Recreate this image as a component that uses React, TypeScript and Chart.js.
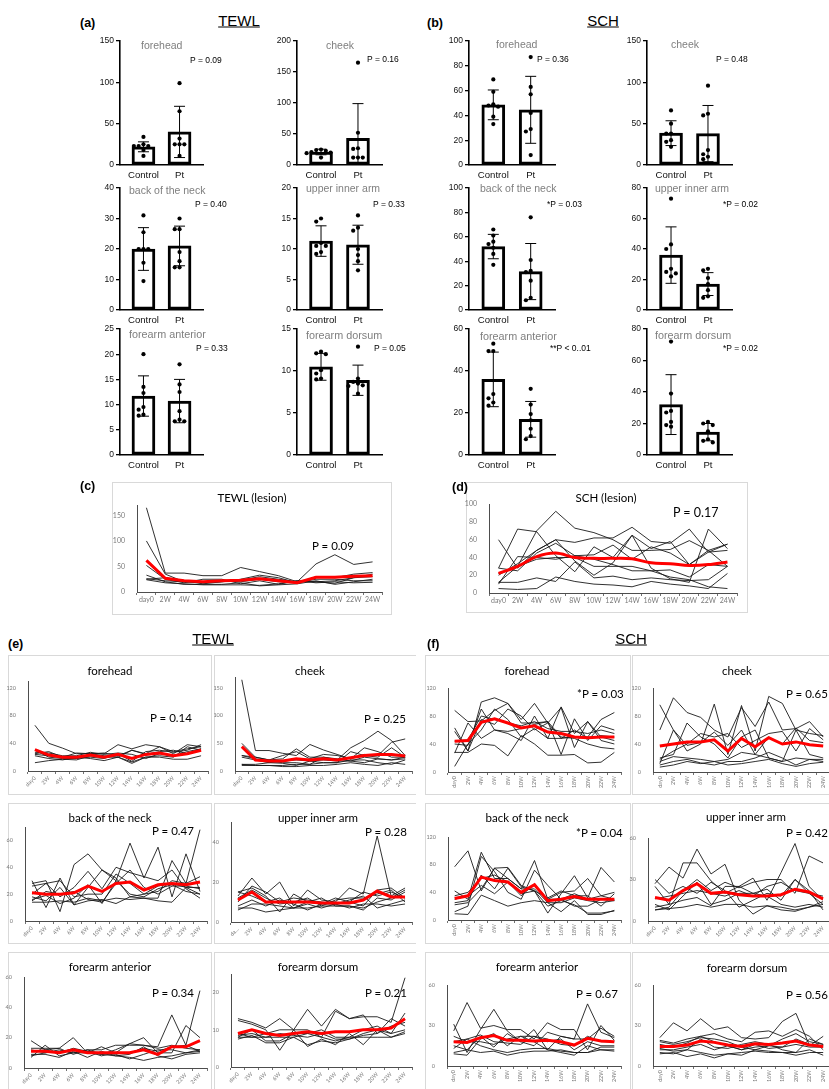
import React, { useEffect, useRef } from 'react';
import { Chart, registerables } from 'chart.js';

Chart.register(...registerables);

const GP = '"Liberation Sans", Arial, Helvetica, sans-serif';
const XL = 'Lato, "Liberation Sans", Arial, sans-serif';

// ---------------- data ----------------
const GROUPS = ['Control', 'Pt'];
const WEEKS = ['day0', '2W', '4W', '6W', '8W', '10W', '12W', '14W', '16W', '18W', '20W', '22W', '24W'];
const WEEKS_CUT = ['da…', '2W', '4W', '6W', '8W', '10W', '12W', '14W', '16W', '18W', '20W', '22W', '24W'];

// (a) TEWL, control vs patient
const aForeheadControl = [34, 25, 23, 23, 23, 18, 11];
const aForeheadPt = [99, 65, 32, 25, 25, 25, 11];
const aForeheadMean = [22, 40];
const aForeheadSd = [6, 31];
const aCheekControl = [25, 24, 23, 21, 20, 19, 12];
const aCheekPt = [165, 52, 27, 26, 12, 12, 12];
const aCheekMean = [21, 43];
const aCheekSd = [4.5, 56];
const aNeckControl = [31, 25.5, 20, 20, 20, 15.5, 9.5];
const aNeckPt = [30, 26.5, 26.5, 19, 16, 14, 14];
const aNeckMean = [20, 21];
const aNeckSd = [7, 6.5];
const aArmControl = [15, 14.5, 11, 10.5, 10.5, 9.5, 9.2];
const aArmPt = [15.5, 13.5, 13, 10, 9, 8, 6.5];
const aArmMean = [11.3, 10.7];
const aArmSd = [2.5, 3.2];
const aAnteriorControl = [20, 13.5, 12.3, 9.5, 9, 8, 7.8];
const aAnteriorPt = [18, 14, 12.5, 8.7, 7, 6.7, 6.7];
const aAnteriorMean = [11.7, 10.7];
const aAnteriorSd = [4, 4.3];
const aDorsumControl = [12.3, 12.1, 12, 10.1, 9.7, 9.1, 9.0];
const aDorsumPt = [12.9, 9.1, 8.7, 8.5, 8.3, 8.2, 7.3];
const aDorsumMean = [10.5, 8.9];
const aDorsumSd = [1.6, 1.8];

// (b) SCH, control vs patient
const bForeheadControl = [69, 59, 49, 48, 47, 39, 33];
const bForeheadPt = [87, 63, 57, 42, 29, 27, 8];
const bForeheadMean = [48.5, 44.5];
const bForeheadSd = [12, 27];
const bCheekControl = [66, 50, 38, 38, 30, 28, 22];
const bCheekPt = [96, 62, 60, 18, 13, 10, 7];
const bCheekMean = [38.5, 38];
const bCheekSd = [15, 34];
const bNeckControl = [66, 61, 56, 54, 51, 46, 37];
const bNeckPt = [76, 41, 32, 31, 24, 10, 8];
const bNeckMean = [52, 31.5];
const bNeckSd = [10, 23];
const bArmControl = [73, 43, 40, 27, 25, 24, 22];
const bArmPt = [27, 26, 21, 17, 13, 9, 8];
const bArmMean = [36, 17];
const bArmSd = [18.5, 7.5];
const bAnteriorControl = [53, 49.5, 49.5, 29, 27, 25, 23.5];
const bAnteriorPt = [31.5, 24, 19.5, 16.5, 12.5, 9, 7.5];
const bAnteriorMean = [36, 17];
const bAnteriorSd = [13, 8.5];
const bDorsumControl = [72, 39, 28, 27, 21, 19, 18];
const bDorsumPt = [21, 20, 19, 15, 10, 9, 8];
const bDorsumMean = [32, 14.5];
const bDorsumSd = [19, 5.5];

// (c) TEWL lesion
const cLesionLines = [
  [165, 37, 37, 32, 32, 48, 40, 32, 20, 55, 73, 54, 59],
  [100, 35, 20, 18, 20, 25, 33, 28, 18, 30, 28, 35, 38],
  [52, 25, 18, 25, 25, 16, 22, 15, 22, 20, 17, 28, 30],
  [33, 20, 15, 15, 15, 18, 12, 14, 16, 22, 15, 20, 25],
  [26, 22, 20, 20, 22, 20, 25, 20, 18, 25, 25, 22, 22],
  [25, 28, 22, 16, 20, 23, 30, 25, 20, 20, 22, 28, 35],
  [24, 18, 16, 14, 14, 14, 13, 16, 22, 18, 20, 18, 19],
];
const cLesionMean = [62, 27, 22, 20, 22, 23, 26, 22, 18, 29, 29, 31, 32];

// (d) SCH lesion
const dLesionLines = [
  [60, 28, 48, 60, 57, 62, 62, 74, 58, 56, 72, 46, 55],
  [28, 72, 69, 42, 24, 52, 40, 65, 28, 16, 12, 72, 50],
  [10, 41, 40, 38, 42, 38, 32, 25, 25, 26, 18, 32, 30],
  [12, 30, 70, 92, 73, 68, 60, 48, 48, 49, 59, 48, 55],
  [20, 33, 48, 60, 36, 20, 34, 65, 50, 58, 32, 48, 30],
  [12, 12, 17, 13, 35, 17, 19, 15, 17, 15, 14, 15, 30],
  [5, 4, 5, 18, 13, 10, 9, 7, 13, 10, 8, 5, 22],
  [28, 25, 45, 56, 42, 43, 54, 38, 52, 45, 32, 46, 48],
  [22, 30, 38, 40, 40, 30, 30, 30, 25, 18, 15, 7, 5],
];
const dLesionMean = [22, 30, 41, 45, 40, 39, 39, 38.5, 34, 33, 31, 32, 35];

// (e) TEWL time course
const eForeheadLines = [
  [66, 40, 33, 25, 25, 26, 22, 30, 25, 35, 25, 38, 35],
  [12, 15, 17, 16, 22, 20, 20, 11, 20, 20, 17, 17, 22],
  [25, 28, 20, 18, 25, 25, 38, 32, 38, 35, 28, 32, 35],
  [30, 20, 18, 18, 20, 18, 25, 14, 28, 30, 27, 30, 38],
  [22, 18, 16, 20, 18, 15, 20, 13, 20, 22, 20, 35, 30],
  [27, 26, 22, 22, 27, 24, 26, 24, 18, 25, 22, 28, 32],
  [24, 22, 20, 26, 25, 22, 20, 30, 24, 28, 30, 25, 32],
];
const eForeheadMean = [31, 23, 20, 20, 23, 20, 24, 18, 24, 26, 22, 25, 30];
const eCheekLines = [
  [165, 37, 37, 32, 28, 48, 38, 30, 22, 42, 35, 25, 25],
  [50, 25, 20, 22, 40, 25, 25, 20, 42, 55, 72, 55, 28],
  [28, 25, 20, 28, 35, 22, 30, 28, 22, 30, 28, 52, 58],
  [12, 10, 10, 10, 12, 12, 15, 15, 20, 20, 15, 12, 20],
  [12, 12, 15, 14, 10, 18, 20, 18, 18, 15, 22, 20, 22],
  [25, 20, 15, 18, 20, 18, 15, 15, 35, 28, 25, 42, 25],
  [10, 10, 10, 8, 8, 10, 10, 12, 15, 12, 10, 15, 12],
  [28, 22, 18, 15, 15, 12, 25, 22, 18, 25, 22, 20, 25],
];
const eCheekMean = [44, 20, 18, 18, 22, 20, 22, 20, 24, 28, 30, 30, 27];
const eNeckLines = [
  [30, 10, 32, 12, 25, 38, 30, 58, 32, 55, 18, 50, 22],
  [28, 30, 7, 42, 50, 38, 32, 18, 17, 17, 45, 28, 68],
  [14, 14, 15, 14, 17, 15, 17, 16, 17, 15, 14, 25, 20],
  [20, 28, 18, 25, 37, 24, 40, 36, 33, 30, 38, 24, 17],
  [18, 15, 25, 12, 15, 16, 13, 18, 20, 22, 30, 28, 33],
  [26, 28, 30, 18, 20, 20, 35, 28, 20, 26, 28, 25, 25],
  [15, 22, 20, 22, 16, 14, 28, 38, 25, 20, 26, 26, 24],
  [16, 19, 13, 17, 27, 13, 30, 20, 18, 24, 27, 22, 20],
];
const eNeckMean = [21, 20, 20, 21, 26, 22, 28, 29, 23, 27, 28, 27, 29];
const eArmLines = [
  [13, 22, 14, 20, 8, 16, 11, 10, 17, 14, 43, 13, 17],
  [15, 17, 13, 5, 14, 10, 9, 12, 10, 8, 16, 17, 12],
  [7, 7, 5, 6, 7, 7, 8, 8, 8, 7, 10, 12, 16],
  [10, 18, 15, 10, 12, 11, 10, 9, 11, 13, 7, 9, 11],
  [8, 11, 8, 11, 9, 6, 9, 9, 10, 15, 13, 15, 12],
  [15, 13, 10, 12, 7, 10, 12, 8, 8, 6, 12, 11, 15],
  [12, 16, 12, 9, 10, 12, 8, 11, 12, 12, 14, 16, 10],
  [6, 9, 9, 8, 7, 9, 7, 9, 7, 9, 9, 8, 9],
];
const eArmMean = [11, 15, 10, 10, 10, 10, 9.5, 9.5, 9.5, 11, 15.5, 12.5, 12.5];
const eAnteriorLines = [
  [18, 12, 13, 20, 10, 14, 10, 16, 15, 14, 35, 15, 51],
  [7, 15, 8, 10, 10, 9, 12, 16, 20, 10, 10, 28, 20],
  [13, 13, 13, 9, 12, 9, 8, 9, 14, 8, 6, 9, 10],
  [9, 9, 7, 11, 7, 11, 8, 7, 5, 7, 8, 10, 12],
  [12, 10, 12, 10, 12, 12, 15, 15, 15, 13, 15, 13, 12],
  [8, 10, 11, 12, 11, 10, 9, 6, 9, 12, 12, 10, 11],
  [11, 12, 10, 13, 11, 8, 10, 10, 13, 11, 14, 15, 11],
];
const eAnteriorMean = [11, 11, 10, 12, 10, 10, 10, 10, 12, 9, 14, 14, 18];
const eDorsumLines = [
  [13, 12, 10.5, 13, 10, 15.5, 11, 15.5, 13, 13.5, 13.5, 12, 24],
  [12.5, 11.5, 10, 4.5, 10, 5.5, 7.5, 6, 9, 6, 10, 9, 14.5],
  [8, 10, 7, 7, 9, 9, 8, 7, 8, 8, 8, 8, 9],
  [9, 8, 9, 10, 10, 10, 8, 15, 13, 14, 9, 13, 11],
  [7.5, 8.5, 6.5, 6.5, 8, 6, 7, 6.5, 7.5, 9, 10, 8, 9.5],
  [8, 8, 8, 9, 8.5, 8, 9, 7.5, 7.5, 8.5, 9, 11, 12],
  [8.5, 9, 8, 8, 8, 9, 10, 8, 8, 10, 11, 9, 10],
];
const eDorsumMean = [9, 10, 9, 8.5, 9, 9.5, 9, 9.5, 9.5, 10, 10, 10.5, 13];

// (f) SCH time course
const fForeheadLines = [
  [88, 72, 73, 88, 98, 75, 98, 70, 92, 35, 72, 45, 40],
  [63, 30, 100, 106, 98, 70, 70, 72, 25, 76, 45, 66, 60],
  [8, 40, 60, 90, 75, 50, 62, 48, 48, 50, 50, 75, 85],
  [28, 28, 40, 38, 23, 52, 40, 24, 24, 25, 13, 14, 28],
  [27, 70, 48, 60, 58, 62, 68, 72, 50, 48, 40, 35, 33],
  [40, 38, 90, 60, 55, 45, 80, 48, 93, 55, 72, 50, 45],
  [44, 46, 80, 75, 70, 66, 72, 62, 58, 58, 55, 60, 55],
  [58, 30, 75, 68, 90, 80, 60, 70, 48, 60, 48, 52, 50],
];
const fForeheadMean = [44, 45, 71, 76, 70, 63, 66, 57, 55, 50, 49, 50, 50];
const fCheekLines = [
  [96, 60, 30, 40, 97, 25, 95, 30, 108, 98, 60, 55, 52],
  [60, 106, 85, 78, 60, 50, 92, 65, 100, 60, 62, 72, 50],
  [20, 25, 70, 50, 40, 20, 50, 60, 20, 15, 60, 25, 20],
  [15, 22, 20, 18, 15, 18, 28, 25, 20, 15, 20, 18, 18],
  [10, 15, 18, 13, 10, 15, 15, 20, 28, 20, 10, 18, 15],
  [7, 10, 15, 12, 15, 10, 12, 15, 18, 12, 8, 12, 14],
  [18, 30, 40, 55, 50, 55, 35, 45, 55, 58, 30, 62, 46],
  [12, 60, 38, 42, 57, 38, 60, 25, 50, 40, 63, 45, 42],
];
const fCheekMean = [37, 40, 43, 43, 46, 30, 48, 36, 49, 40, 43, 39, 37];
const fNeckLines = [
  [77, 100, 42, 75, 76, 50, 42, 10, 38, 64, 32, 76, 55],
  [42, 30, 98, 60, 60, 45, 86, 30, 40, 42, 60, 35, 40],
  [12, 20, 92, 70, 40, 30, 72, 50, 30, 20, 20, 30, 28],
  [9, 8, 36, 28, 20, 25, 28, 25, 12, 28, 8, 8, 14],
  [25, 28, 65, 45, 75, 48, 42, 32, 42, 35, 35, 20, 38],
  [30, 35, 50, 38, 55, 38, 42, 20, 28, 22, 10, 10, 13],
  [35, 40, 60, 65, 55, 35, 52, 30, 30, 38, 30, 35, 30],
  [22, 25, 45, 75, 60, 45, 45, 25, 25, 32, 28, 25, 28],
];
const fNeckMean = [31, 35, 62, 57, 55, 40, 51, 28, 30, 34, 30, 30, 30];
const fArmLines = [
  [27, 39, 31, 52, 34, 41, 15, 5, 11, 8, 7, 10, 14],
  [25, 12, 42, 42, 29, 20, 25, 31, 15, 35, 56, 25, 15],
  [8, 10, 22, 30, 22, 28, 24, 28, 30, 30, 20, 47, 42],
  [12, 8, 18, 28, 12, 15, 20, 20, 18, 12, 10, 12, 10],
  [10, 12, 15, 17, 11, 25, 25, 20, 23, 15, 30, 20, 12],
  [8, 9, 10, 12, 10, 12, 12, 10, 11, 10, 8, 10, 12],
  [16, 18, 20, 22, 20, 18, 22, 18, 25, 28, 22, 20, 18],
  [30, 20, 25, 20, 28, 22, 10, 15, 20, 18, 30, 22, 8],
];
const fArmMean = [17, 15, 22, 27, 20, 21, 19, 18, 18, 19, 23, 21, 16];
const fAnteriorLines = [
  [31, 10, 27, 42, 26, 18, 27, 12, 22, 20, 46, 25, 21],
  [26, 47, 28, 30, 27, 27, 20, 32, 27, 27, 12, 30, 19],
  [9, 8, 20, 24, 15, 22, 22, 18, 20, 12, 18, 15, 15],
  [10, 12, 10, 11, 8, 10, 11, 11, 12, 10, 10, 12, 12],
  [18, 20, 23, 18, 17, 16, 22, 20, 16, 15, 22, 18, 18],
  [15, 12, 22, 14, 24, 18, 15, 25, 22, 20, 20, 28, 22],
  [22, 18, 18, 16, 20, 22, 18, 12, 10, 8, 15, 12, 11],
  [13, 20, 15, 12, 10, 12, 13, 13, 11, 10, 10, 14, 14],
];
const fAnteriorMean = [18, 17.5, 21, 22.5, 19, 19, 18.5, 19, 18, 15.5, 20.5, 18.5, 18];
const fDorsumLines = [
  [21, 32, 26, 35, 27, 29, 21, 20, 21, 33, 39, 15, 22],
  [19, 17, 20, 22, 24, 20, 18, 25, 26, 22, 27, 22, 12],
  [10, 9, 12, 20, 14, 13, 16, 18, 16, 12, 10, 20, 16],
  [16, 14, 17, 22, 18, 15, 12, 16, 13, 14, 20, 16, 15],
  [13, 11, 12, 10, 8, 9, 8, 12, 11, 10, 10, 12, 8],
  [9, 10, 7, 9, 6, 9, 10, 11, 10, 10, 8, 10, 10],
  [18, 16, 18, 21, 20, 18, 14, 12, 15, 20, 24, 18, 16],
  [12, 12, 14, 16, 12, 15, 12, 14, 15, 14, 16, 14, 14],
];
const fDorsumMean = [14.5, 14.5, 15.5, 18.5, 17.5, 15.5, 14.5, 16.5, 16, 17, 18.5, 15.5, 14.5];

// ---------------- components ----------------
type Rect = { l: number; t: number; r: number; b: number };

function BarPanel(props: {
  plot: Rect; control: number[]; pt: number[]; mean: number[]; sd: number[]; yMax: number; yStep: number;
}) {
  const { plot, control, pt, mean, sd, yMax, yStep } = props;
  const ref = useRef<HTMLCanvasElement | null>(null);
  const YW = 34, PT = 8, PR = 10, XH = 24;
  const left = plot.l - YW;
  const top = plot.t - PT;
  const w = plot.r - plot.l + YW + PR;
  const h = plot.b - plot.t + PT + XH;
  useEffect(() => {
    const pxY = (plot.b - plot.t) / yMax;
    const unitX = 2.3 / (plot.r - plot.l);
    const swarm = (vals: number[], cx: number) => {
      const placed: number[][] = [];
      const cands = [0, -4.8, 4.8, -9.6, 9.6, -14.4, 14.4];
      return vals.map((v) => {
        const py = v * pxY;
        let off = 0;
        for (const c of cands) {
          if (placed.every((p) => Math.hypot(p[0] - c, p[1] - py) >= 4.6)) { off = c; break; }
        }
        placed.push([off, py]);
        return { x: cx + off * unitX, y: v };
      });
    };
    const errDs = (i: number) => ({
      type: 'line' as const,
      data: [{ x: i, y: mean[i] - sd[i] }, { x: i, y: mean[i] + sd[i] }],
      borderColor: '#000', borderWidth: 1, pointStyle: 'line' as const, pointRadius: 5.5,
      pointBorderWidth: 1, pointBorderColor: '#000', order: 2,
    });
    const dotDs = (vals: number[], i: number) => ({
      type: 'scatter' as const,
      data: swarm(vals, i),
      pointRadius: 2.1, pointBackgroundColor: '#000', pointBorderWidth: 0, order: 1,
    });
    const chart = new Chart(ref.current as HTMLCanvasElement, {
      type: 'bar',
      data: {
        datasets: [
          {
            type: 'bar',
            data: [{ x: 0, y: mean[0] }, { x: 1, y: mean[1] }],
            backgroundColor: '#fff', borderColor: '#000', borderWidth: 3, borderSkipped: false,
            barThickness: 23, order: 3,
          } as any,
          errDs(0), errDs(1), dotDs(control, 0), dotDs(pt, 1),
        ],
      },
      options: {
        responsive: false, animation: false, devicePixelRatio: 1, events: [],
        layout: { padding: { top: PT, right: PR, left: 0, bottom: 0 } },
        plugins: { legend: { display: false }, tooltip: { enabled: false } },
        scales: {
          x: {
            type: 'linear', min: -0.65, max: 1.65, offset: false,
            grid: { display: false, drawTicks: false, tickLength: 0 },
            border: { display: true, color: '#000', width: 1.6 },
            afterBuildTicks: (s: any) => { s.ticks = [{ value: 0 }, { value: 1 }]; },
            ticks: {
              callback: (v: any) => GROUPS[v] ?? '', color: '#111',
              font: { family: GP, size: 9.6 }, padding: 5, minRotation: 0, maxRotation: 0, autoSkip: false,
            },
            afterFit: (s: any) => { s.height = XH; },
          },
          y: {
            min: 0, max: yMax,
            grid: { display: true, drawOnChartArea: false, drawTicks: true, tickLength: 4, color: '#000', lineWidth: 1.3 },
            border: { display: true, color: '#000', width: 1.6 },
            ticks: { stepSize: yStep, includeBounds: false, color: '#111', font: { family: GP, size: 8.5 }, padding: 2 },
            afterFit: (s: any) => { s.width = YW; },
          },
        },
      } as any,
    });
    return () => chart.destroy();
  }, []);
  return (
    <canvas ref={ref} width={w} height={h}
      style={{ position: 'absolute', left, top, width: w, height: h, zIndex: 1 }} />
  );
}

function XlPanel(props: {
  plot: Rect; lines: number[][]; mean: number[]; labels: string[]; yMax: number; yStep: number;
  rot?: number; xFont?: number; yFont?: number; tension?: number;
}) {
  const { plot, lines, mean, labels, yMax, yStep } = props;
  const rot = props.rot ?? 0;
  const xFont = props.xFont ?? 5.5;
  const yFont = props.yFont ?? 5.5;
  const ref = useRef<HTMLCanvasElement | null>(null);
  const YW = 26, PT = 8, PR = 12, XH = 26;
  const left = plot.l - YW;
  const top = plot.t - PT;
  const w = plot.r - plot.l + YW + PR;
  const h = plot.b - plot.t + PT + XH;
  useEffect(() => {
    const chart = new Chart(ref.current as HTMLCanvasElement, {
      type: 'line',
      data: {
        labels,
        datasets: [
          ...lines.map((d) => ({
            data: d, borderColor: '#1a1a1a', borderWidth: 0.9, pointRadius: 0, tension: 0, order: 2,
          })),
          { data: mean, borderColor: '#ff0000', borderWidth: 3, pointRadius: 0, tension: props.tension ?? 0, order: 1 },
        ],
      },
      options: {
        responsive: false, animation: false, devicePixelRatio: 1, events: [],
        layout: { padding: { top: PT, right: PR, left: 0, bottom: 0 } },
        plugins: { legend: { display: false }, tooltip: { enabled: false } },
        scales: {
          x: {
            type: 'category', offset: true,
            grid: { display: true, drawOnChartArea: false, drawTicks: true, tickLength: 3, color: '#4d4d4d', lineWidth: 0.8, offset: true },
            border: { display: true, color: '#4d4d4d', width: 1 },
            ticks: {
              color: '#7a7a7a', font: { family: XL, size: xFont }, padding: 1,
              minRotation: rot, maxRotation: rot, autoSkip: false,
            },
            afterFit: (s: any) => { s.height = XH; },
          },
          y: {
            min: 0, max: yMax,
            grid: { display: false },
            border: { display: true, color: '#4d4d4d', width: 1 },
            ticks: { stepSize: yStep, includeBounds: false, color: '#7a7a7a', font: { family: XL, size: yFont }, padding: 4 },
            afterFit: (s: any) => { s.width = YW; },
          },
        },
      } as any,
    });
    return () => chart.destroy();
  }, []);
  return (
    <canvas ref={ref} width={w} height={h}
      style={{ position: 'absolute', left, top, width: w, height: h, zIndex: 1 }} />
  );
}

function Txt(props: {
  x: number; y: number; s: string; size: number; color?: string; font?: string; bold?: boolean;
  center?: boolean; underline?: boolean;
}) {
  const { x, y, s, size } = props;
  return (
    <div style={{
      position: 'absolute', left: x, top: y,
      transform: props.center ? 'translate(-50%, -50%)' : 'translateY(-50%)',
      fontSize: size, color: props.color ?? '#000', fontFamily: props.font ?? GP,
      fontWeight: props.bold ? 700 : 400, whiteSpace: 'nowrap', lineHeight: 1,
      textDecoration: props.underline ? 'underline' : 'none', zIndex: 2,
    }}>{s}</div>
  );
}

function Frame(props: { l: number; t: number; r: number; b: number; noRight?: boolean }) {
  const { l, t, r, b } = props;
  return (
    <div style={{
      position: 'absolute', left: l, top: t, width: r - l, height: b - t, boxSizing: 'border-box',
      border: '1px solid #d9d9d9', borderRight: props.noRight ? 'none' : '1px solid #d9d9d9', background: '#fff', zIndex: 0,
    }} />
  );
}

// ---------------- layout ----------------
const ACOL = [{ l: 120, r: 203 }, { l: 297, r: 382 }];
const BCOL = [{ l: 469, r: 555 }, { l: 647, r: 732 }];
const ROWS = [{ t: 41, b: 165 }, { t: 188, b: 310 }, { t: 329, b: 455 }];
const rect = (c: { l: number; r: number }, r: { t: number; b: number }): Rect => ({ l: c.l, r: c.r, t: r.t, b: r.b });

const SUB = '#7f7f7f';

export default function App() {
  return (
    <div style={{ position: 'absolute', left: 0, top: 0, width: 829, height: 1089, overflow: 'hidden', background: '#fff', fontFamily: GP }}>
      {/* headers */}
      <Txt x={80} y={23} s="(a)" size={12.5} bold />
      <Txt x={239} y={20} s="TEWL" size={15} center underline />
      <Txt x={427} y={23} s="(b)" size={12.5} bold />
      <Txt x={603} y={20} s="SCH" size={15} center underline />

      {/* (a) bars */}
      <BarPanel plot={rect(ACOL[0], ROWS[0])} control={aForeheadControl} pt={aForeheadPt} mean={aForeheadMean} sd={aForeheadSd} yMax={150} yStep={50} />
      <BarPanel plot={rect(ACOL[1], ROWS[0])} control={aCheekControl} pt={aCheekPt} mean={aCheekMean} sd={aCheekSd} yMax={200} yStep={50} />
      <BarPanel plot={rect(ACOL[0], ROWS[1])} control={aNeckControl} pt={aNeckPt} mean={aNeckMean} sd={aNeckSd} yMax={40} yStep={10} />
      <BarPanel plot={rect(ACOL[1], ROWS[1])} control={aArmControl} pt={aArmPt} mean={aArmMean} sd={aArmSd} yMax={20} yStep={5} />
      <BarPanel plot={rect(ACOL[0], ROWS[2])} control={aAnteriorControl} pt={aAnteriorPt} mean={aAnteriorMean} sd={aAnteriorSd} yMax={25} yStep={5} />
      <BarPanel plot={rect(ACOL[1], ROWS[2])} control={aDorsumControl} pt={aDorsumPt} mean={aDorsumMean} sd={aDorsumSd} yMax={15} yStep={5} />
      <Txt x={141} y={45} s="forehead" size={10.5} color={SUB} />
      <Txt x={190} y={60} s="P = 0.09" size={8.5} />
      <Txt x={326} y={45} s="cheek" size={10.5} color={SUB} />
      <Txt x={367} y={59} s="P = 0.16" size={8.5} />
      <Txt x={129} y={190} s="back of the neck" size={10.5} color={SUB} />
      <Txt x={195} y={204} s="P = 0.40" size={8.5} />
      <Txt x={306} y={188} s="upper inner arm" size={10.5} color={SUB} />
      <Txt x={373} y={204} s="P = 0.33" size={8.5} />
      <Txt x={129} y={334} s="forearm anterior" size={10.8} color={SUB} />
      <Txt x={196} y={348} s="P = 0.33" size={8.5} />
      <Txt x={306} y={335} s="forearm dorsum" size={10.8} color={SUB} />
      <Txt x={374} y={348} s="P = 0.05" size={8.5} />

      {/* (b) bars */}
      <BarPanel plot={rect(BCOL[0], ROWS[0])} control={bForeheadControl} pt={bForeheadPt} mean={bForeheadMean} sd={bForeheadSd} yMax={100} yStep={20} />
      <BarPanel plot={rect(BCOL[1], ROWS[0])} control={bCheekControl} pt={bCheekPt} mean={bCheekMean} sd={bCheekSd} yMax={150} yStep={50} />
      <BarPanel plot={rect(BCOL[0], ROWS[1])} control={bNeckControl} pt={bNeckPt} mean={bNeckMean} sd={bNeckSd} yMax={100} yStep={20} />
      <BarPanel plot={rect(BCOL[1], ROWS[1])} control={bArmControl} pt={bArmPt} mean={bArmMean} sd={bArmSd} yMax={80} yStep={20} />
      <BarPanel plot={rect(BCOL[0], ROWS[2])} control={bAnteriorControl} pt={bAnteriorPt} mean={bAnteriorMean} sd={bAnteriorSd} yMax={60} yStep={20} />
      <BarPanel plot={rect(BCOL[1], ROWS[2])} control={bDorsumControl} pt={bDorsumPt} mean={bDorsumMean} sd={bDorsumSd} yMax={80} yStep={20} />
      <Txt x={496} y={44} s="forehead" size={10.5} color={SUB} />
      <Txt x={537} y={59} s="P = 0.36" size={8.5} />
      <Txt x={671} y={44} s="cheek" size={10.5} color={SUB} />
      <Txt x={716} y={59} s="P = 0.48" size={8.5} />
      <Txt x={480} y={188} s="back of the neck" size={10.5} color={SUB} />
      <Txt x={547} y={204} s="*P = 0.03" size={8.5} />
      <Txt x={655} y={188} s="upper inner arm" size={10.5} color={SUB} />
      <Txt x={723} y={204} s="*P = 0.02" size={8.5} />
      <Txt x={480} y={336} s="forearm anterior" size={10.8} color={SUB} />
      <Txt x={550} y={348} s="**P < 0..01" size={8.5} />
      <Txt x={655} y={335} s="forearm dorsum" size={10.8} color={SUB} />
      <Txt x={723} y={348} s="*P = 0.02" size={8.5} />

      {/* (c) and (d) */}
      <Txt x={80} y={486} s="(c)" size={12.5} bold />
      <Frame l={112} t={482} r={392} b={615} />
      <XlPanel plot={{ l: 137, t: 505, r: 382, b: 592 }} lines={cLesionLines} mean={cLesionMean} labels={WEEKS} yMax={170} yStep={50} rot={0} xFont={7} yFont={7} />
      <Txt x={252} y={498} s="TEWL (lesion)" size={11.5} font={XL} center />
      <Txt x={312} y={546} s="P = 0.09" size={11.5} font={XL} />

      <Txt x={452} y={487} s="(d)" size={12.5} bold />
      <Frame l={466} t={482} r={748} b={613} />
      <XlPanel plot={{ l: 489, t: 504, r: 737, b: 593 }} lines={dLesionLines} mean={dLesionMean} labels={WEEKS} yMax={100} yStep={20} rot={0} xFont={7} yFont={7} tension={0.35} />
      <Txt x={606} y={498} s="SCH (lesion)" size={11.5} font={XL} center />
      <Txt x={673} y={513} s="P = 0.17" size={12.5} font={XL} />

      {/* (e) and (f) headers */}
      <Txt x={8} y={644} s="(e)" size={12.5} bold />
      <Txt x={213} y={638} s="TEWL" size={15} center underline />
      <Txt x={427} y={644} s="(f)" size={12.5} bold />
      <Txt x={631} y={638} s="SCH" size={15} center underline />

      {/* frames */}
      <Frame l={8} t={655} r={212} b={795} />
      <Frame l={214} t={655} r={416} b={795} noRight />
      <Frame l={425} t={655} r={631} b={795} />
      <Frame l={632} t={655} r={840} b={795} />
      <Frame l={8} t={803} r={212} b={944} />
      <Frame l={214} t={803} r={416} b={944} noRight />
      <Frame l={425} t={803} r={631} b={944} />
      <Frame l={632} t={803} r={840} b={944} />
      <Frame l={8} t={952} r={212} b={1100} />
      <Frame l={214} t={952} r={416} b={1100} noRight />
      <Frame l={425} t={952} r={631} b={1100} />
      <Frame l={632} t={952} r={840} b={1100} />

      {/* row 1 */}
      <XlPanel plot={{ l: 28, t: 681, r: 208, b: 771 }} lines={eForeheadLines} mean={eForeheadMean} labels={WEEKS} yMax={130} yStep={40} rot={45} />
      <XlPanel plot={{ l: 235, t: 677, r: 412, b: 771 }} lines={eCheekLines} mean={eCheekMean} labels={WEEKS} yMax={170} yStep={50} rot={45} />
      <XlPanel plot={{ l: 448, t: 688, r: 621, b: 772 }} lines={fForeheadLines} mean={fForeheadMean} labels={WEEKS} yMax={120} yStep={40} rot={90} />
      <XlPanel plot={{ l: 653, t: 688, r: 830, b: 772 }} lines={fCheekLines} mean={fCheekMean} labels={WEEKS} yMax={120} yStep={40} rot={90} />
      <Txt x={110} y={671} s="forehead" size={11.5} font={XL} center />
      <Txt x={150} y={718} s="P = 0.14" size={11.5} font={XL} />
      <Txt x={310} y={671} s="cheek" size={11.5} font={XL} center />
      <Txt x={364} y={719} s="P = 0.25" size={11.5} font={XL} />
      <Txt x={527} y={671} s="forehead" size={11.5} font={XL} center />
      <Txt x={577} y={694} s="*P = 0.03" size={11.5} font={XL} />
      <Txt x={737} y={671} s="cheek" size={11.5} font={XL} center />
      <Txt x={786} y={694} s="P = 0.65" size={11.5} font={XL} />

      {/* row 2 */}
      <XlPanel plot={{ l: 25, t: 827, r: 207, b: 921 }} lines={eNeckLines} mean={eNeckMean} labels={WEEKS} yMax={70} yStep={20} rot={45} />
      <XlPanel plot={{ l: 231, t: 822, r: 412, b: 922 }} lines={eArmLines} mean={eArmMean} labels={WEEKS_CUT} yMax={50} yStep={20} rot={45} />
      <XlPanel plot={{ l: 448, t: 837, r: 621, b: 920 }} lines={fNeckLines} mean={fNeckMean} labels={WEEKS} yMax={120} yStep={40} rot={90} />
      <XlPanel plot={{ l: 648, t: 838, r: 830, b: 921 }} lines={fArmLines} mean={fArmMean} labels={WEEKS} yMax={60} yStep={30} rot={45} />
      <Txt x={110} y={818} s="back of the neck" size={11.5} font={XL} center />
      <Txt x={152} y={831} s="P = 0.47" size={11.5} font={XL} />
      <Txt x={318} y={818} s="upper inner arm" size={11.5} font={XL} center />
      <Txt x={365} y={832} s="P = 0.28" size={11.5} font={XL} />
      <Txt x={527} y={818} s="back of the neck" size={11.5} font={XL} center />
      <Txt x={576} y={833} s="*P = 0.04" size={11.5} font={XL} />
      <Txt x={746} y={817} s="upper inner arm" size={11.5} font={XL} center />
      <Txt x={786} y={833} s="P = 0.42" size={11.5} font={XL} />

      {/* row 3 */}
      <XlPanel plot={{ l: 24, t: 977, r: 207, b: 1068 }} lines={eAnteriorLines} mean={eAnteriorMean} labels={WEEKS} yMax={60} yStep={20} rot={45} />
      <XlPanel plot={{ l: 231, t: 974, r: 412, b: 1067 }} lines={eDorsumLines} mean={eDorsumMean} labels={WEEKS} yMax={25} yStep={10} rot={45} />
      <XlPanel plot={{ l: 447, t: 985, r: 621, b: 1066 }} lines={fAnteriorLines} mean={fAnteriorMean} labels={WEEKS} yMax={60} yStep={30} rot={90} />
      <XlPanel plot={{ l: 653, t: 985, r: 830, b: 1066 }} lines={fDorsumLines} mean={fDorsumMean} labels={WEEKS} yMax={60} yStep={30} rot={90} />
      <Txt x={110} y={967} s="forearm anterior" size={11.5} font={XL} center />
      <Txt x={152} y={993} s="P = 0.34" size={11.5} font={XL} />
      <Txt x={318} y={967} s="forearm dorsum" size={11.5} font={XL} center />
      <Txt x={365} y={993} s="P = 0.21" size={11.5} font={XL} />
      <Txt x={537} y={967} s="forearm anterior" size={11.5} font={XL} center />
      <Txt x={576} y={994} s="P = 0.67" size={11.5} font={XL} />
      <Txt x={747} y={968} s="forearm dorsum" size={11.5} font={XL} center />
      <Txt x={786} y={995} s="P = 0.56" size={11.5} font={XL} />
    </div>
  );
}
